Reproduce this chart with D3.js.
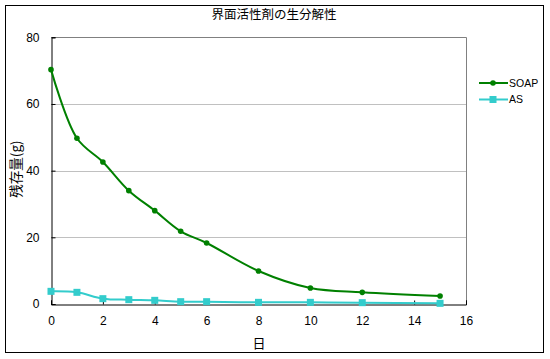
<!DOCTYPE html>
<html><head><meta charset="utf-8">
<script src="https://cdn.jsdelivr.net/npm/d3@7"></script>
<style>body{margin:0;background:#fff}svg{display:block}</style>
</head><body>
<svg id="c" width="550" height="359"></svg>
<script>
const title = "界面活性剤の生分解性";
const xLabel = "日";
const yLabel = "残存量(g)";
const seriesNames = ["SOAP", "AS"];
const days = [0, 1, 2, 3, 4, 5, 6, 8, 10, 12, 15];
const soapValues = [70.3, 49.7, 42.6, 34, 28, 21.8, 18.3, 9.9, 4.8, 3.5, 2.4];
const asValues = [3.8, 3.5, 1.6, 1.3, 1.1, 0.7, 0.7, 0.5, 0.5, 0.4, 0.2];
const xTicks = [0, 2, 4, 6, 8, 10, 12, 14, 16];
const yTicks = [0, 20, 40, 60, 80];
const colors = ["#008000", "#33CCCC"];

const svg = d3.select("#c");
const font = "'Liberation Sans', Arial, sans-serif";
const jfont = "'Noto Sans CJK JP', sans-serif";

svg.append("rect").attr("x", 5.5).attr("y", 5.5).attr("width", 538).attr("height", 347)
  .attr("fill", "#fff").attr("stroke", "#000");

const x = d3.scaleLinear().domain([0, 16]).range([51, 466]);
const y = d3.scaleLinear().domain([0, 80]).range([304, 37.3]);

svg.append("g").selectAll("line").data(yTicks.filter(d => d > 0 && d < 80)).join("line")
  .attr("x1", x(0)).attr("x2", x(16)).attr("y1", d => Math.round(y(d)) + 0.5).attr("y2", d => Math.round(y(d)) + 0.5)
  .attr("stroke", "#c0c0c0");
svg.append("path").attr("d", `M${x(0)},${Math.round(y(80))+0.5}H${x(16)+0.5}V${y(0)}`)
  .attr("fill", "none").attr("stroke", "#808080");

const yAxis = svg.append("g").attr("transform", `translate(${x(0)+0.5},0)`)
  .call(d3.axisLeft(y).tickValues(yTicks).tickSize(-4).tickPadding(12).tickFormat(d3.format("d")));
const xAxis = svg.append("g").attr("transform", `translate(0,${y(0)+0.5})`)
  .call(d3.axisBottom(x).tickValues(xTicks).tickSize(-4).tickPadding(12).tickFormat(d3.format("d")));
[xAxis, yAxis].forEach(a => {
  a.selectAll("text").attr("font-family", font).attr("font-size", 12).attr("fill", "#000");
  a.selectAll("line").attr("stroke", "#000");
  a.select(".domain").attr("stroke", "#000");
});

const allSeries = [soapValues, asValues];
const line = d3.line().x((d, i) => x(days[i])).y(d => y(d)).curve(d3.curveCatmullRom.alpha(0.5));
allSeries.forEach((vals, si) => {
  const g = svg.append("g");
  g.append("path").datum(vals).attr("d", line).attr("fill", "none")
    .attr("stroke", colors[si]).attr("stroke-width", 2);
  if (si === 0) {
    g.selectAll("circle").data(vals).join("circle")
      .attr("cx", (d, i) => x(days[i])).attr("cy", d => y(d)).attr("r", 2.8).attr("fill", colors[si]);
  } else {
    g.selectAll("rect").data(vals).join("rect")
      .attr("x", (d, i) => x(days[i]) - 3.5).attr("y", d => y(d) - 3.5)
      .attr("width", 7).attr("height", 7).attr("fill", colors[si]);
  }
});

seriesNames.forEach((name, i) => {
  const ly = 83 + i * 16.5;
  svg.append("line").attr("x1", 479).attr("x2", 508).attr("y1", ly).attr("y2", ly)
    .attr("stroke", colors[i]).attr("stroke-width", 2);
  if (i === 0) svg.append("circle").attr("cx", 493).attr("cy", ly).attr("r", 2.8).attr("fill", colors[i]);
  else svg.append("rect").attr("x", 489.5).attr("y", ly - 3.5).attr("width", 7).attr("height", 7).attr("fill", colors[i]);
  svg.append("text").attr("x", 509).attr("y", ly).attr("dy", "0.35em").attr("font-family", font)
    .attr("font-size", 10.5).text(name);
});

svg.append("text").attr("x", 274).attr("y", 15).attr("dy", "0.35em").attr("text-anchor", "middle")
  .attr("font-family", jfont).attr("font-size", 12.5).text(title);
svg.append("text").attr("x", 259).attr("y", 343).attr("dy", "0.35em").attr("text-anchor", "middle")
  .attr("font-family", jfont).attr("font-size", 13).text(xLabel);
svg.append("text").attr("transform", "translate(16,169) rotate(-90)").attr("dy", "0.35em")
  .attr("text-anchor", "middle").attr("font-family", jfont).attr("font-size", 13.5).text(yLabel);
</script>
</body></html>
